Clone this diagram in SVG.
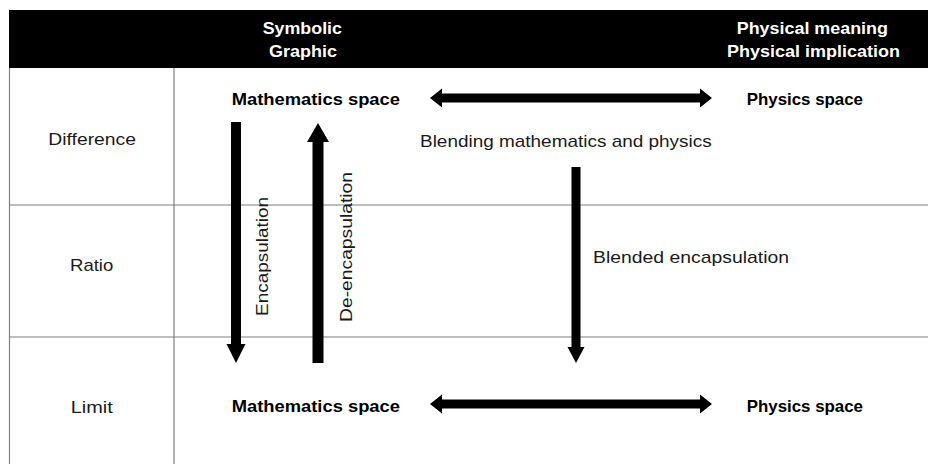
<svg xmlns="http://www.w3.org/2000/svg" width="928" height="464" viewBox="0 0 928 464">
<style>
text{font-family:"Liberation Sans",Arial,sans-serif;font-size:17px;fill:#1a1a1a}
.b{font-weight:bold;fill:#000}
.h{font-weight:bold;fill:#fff}
.grid{stroke:#7f7f7f;stroke-width:1.2;fill:none}
.arr{fill:#000}
</style>
<rect width="928" height="464" fill="#fff"/>
<g id="table">
<rect x="9" y="10" width="919" height="58" fill="#000"/>
<line class="grid" x1="9.5" y1="68" x2="9.5" y2="464"/>
<line class="grid" x1="174" y1="68" x2="174" y2="464"/>
<line class="grid" x1="9" y1="205" x2="928" y2="205"/>
<line class="grid" x1="9" y1="337" x2="928" y2="337"/>
</g>
<g id="header">
<text class="h" x="262.7" y="34" textLength="79.3" lengthAdjust="spacingAndGlyphs">Symbolic</text>
<text class="h" x="269" y="57" textLength="68" lengthAdjust="spacingAndGlyphs">Graphic</text>
<text class="h" x="736.7" y="34" textLength="151.3" lengthAdjust="spacingAndGlyphs">Physical meaning</text>
<text class="h" x="727" y="57" textLength="173" lengthAdjust="spacingAndGlyphs">Physical implication</text>
</g>
<g id="row-labels">
<text x="48.3" y="145" textLength="87.7" lengthAdjust="spacingAndGlyphs">Difference</text>
<text x="70" y="271" textLength="43.3" lengthAdjust="spacingAndGlyphs">Ratio</text>
<text x="70.7" y="413" textLength="42" lengthAdjust="spacingAndGlyphs">Limit</text>
</g>
<g id="math-top"><text class="b" x="231.7" y="105" textLength="168.3" lengthAdjust="spacingAndGlyphs">Mathematics space</text></g>
<g id="phys-top"><text class="b" x="746.7" y="105" textLength="116.3" lengthAdjust="spacingAndGlyphs">Physics space</text></g>
<g id="math-bottom"><text class="b" x="231.7" y="412" textLength="168.3" lengthAdjust="spacingAndGlyphs">Mathematics space</text></g>
<g id="phys-bottom"><text class="b" x="746.7" y="412" textLength="116.3" lengthAdjust="spacingAndGlyphs">Physics space</text></g>
<g id="connectors">
<polygon class="arr" points="430,98 442,88.5 442,93.5 700,93.5 700,88.5 712,98 700,107.5 700,102.5 442,102.5 442,107.5"/>
<polygon class="arr" points="430,404 442,394.5 442,399.5 700,399.5 700,394.5 712,404 700,413.5 700,408.5 442,408.5 442,413.5"/>
<polygon class="arr" points="231,122 241,122 241,344 245.5,344 236,363 226.5,344 231,344"/>
<polygon class="arr" points="312.5,363 323.5,363 323.5,142 329,142 318,123 307,142 312.5,142"/>
<polygon class="arr" points="571.5,167 580.5,167 580.5,347 584.5,347 576,363 567.5,347 571.5,347"/>
<text x="420" y="146.7" textLength="291.7" lengthAdjust="spacingAndGlyphs">Blending mathematics and physics</text>
<text x="593" y="263" textLength="196" lengthAdjust="spacingAndGlyphs">Blended encapsulation</text>
<text transform="translate(268,316) rotate(-90)" x="0" y="0" textLength="119" lengthAdjust="spacingAndGlyphs">Encapsulation</text>
<text transform="translate(352,322) rotate(-90)" x="0" y="0" textLength="150" lengthAdjust="spacingAndGlyphs">De-encapsulation</text>
</g>
</svg>
